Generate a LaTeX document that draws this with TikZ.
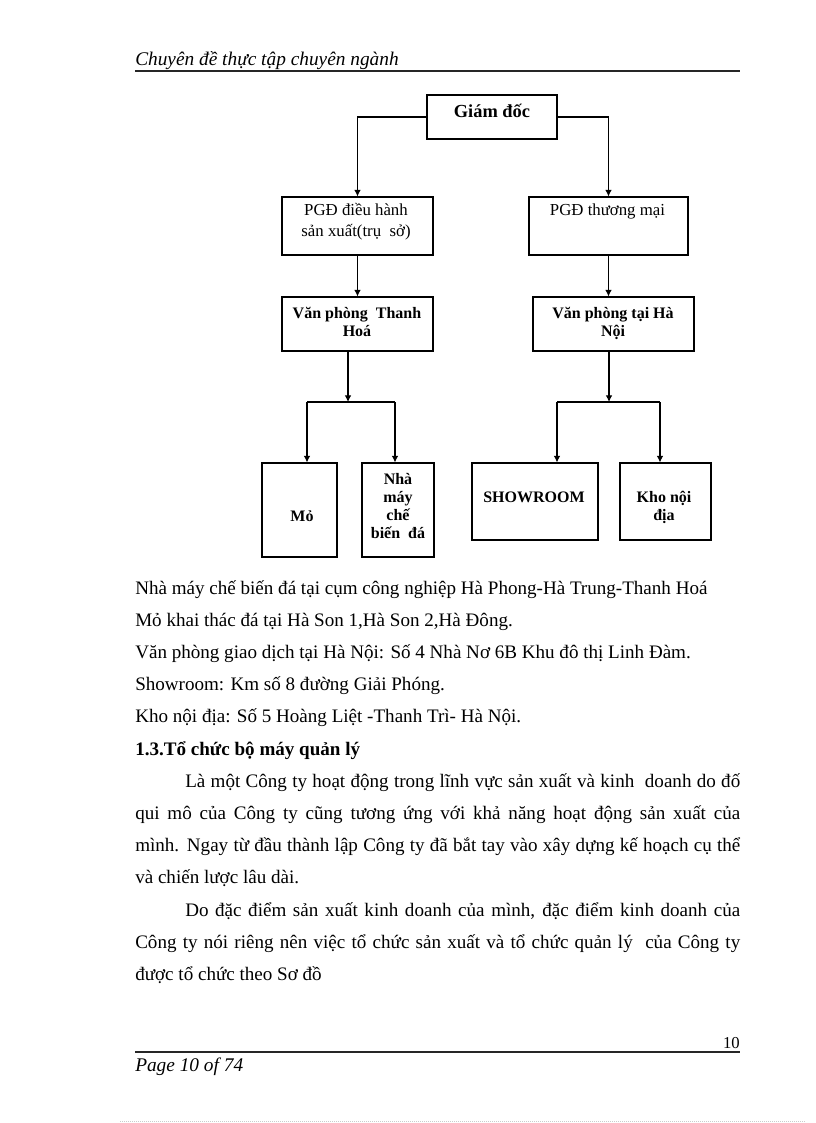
\documentclass[tikz,border=0pt]{standalone}
\usepackage{fontspec}
\setmainfont{Liberation Serif}
\usetikzlibrary{arrows.meta,fit}
\newcommand\mystack[1]{\vtop{\halign{\hfil##\hfil\cr#1\crcr}}}
\newcommand\jline[1]{\makebox[453.75pt][s]{#1}}
\begin{document}
\begin{tikzpicture}[x=0.75pt,y=-0.75pt,
  box/.style={draw, line width=0.8pt, inner sep=0pt},
  link/.style={line width=0.8pt},
  conn/.style={line width=0.8pt, -{Latex[length=5pt,width=5pt]}},
  lbl/.style={inner sep=0pt, anchor=base, font=\fontsize{12}{13.5}\selectfont\bfseries},
  lblr/.style={inner sep=0pt, anchor=base, font=\fontsize{12.6}{15.75}\selectfont},
  body/.style={inner sep=0pt, anchor=base west, font=\fontsize{14.3}{16}\selectfont},
  hdr/.style={inner sep=0pt, anchor=base west, font=\fontsize{14.5}{16}\selectfont\itshape},
  rule/.style={line width=0.9pt, black!85}
]
\useasboundingbox (0,0) rectangle (816,1123);
\fill[white] (0,0) rectangle (816,1123);

% header
\node[hdr] (head) at (135,66) {Chuyên đề thực tập chuyên ngành};
\coordinate (hl1) at (135,71);
\coordinate (hl2) at (740,71);
\draw[rule] (hl1) -- (hl2);

% boxes
\node[box, fit={(427,95) (557,139)}] (gd) {};
\node[box, fit={(282,197) (433,255)}] (pgd1) {};
\node[box, fit={(529,197) (688,255)}] (pgd2) {};
\node[box, fit={(282,297) (433,351)}] (vpth) {};
\node[box, fit={(533,297) (694,351)}] (vphn) {};
\node[box, fit={(262,463) (337,557)}] (mo) {};
\node[box, fit={(362,463) (434,557)}] (nm) {};
\node[box, fit={(472,463) (598,540)}] (sr) {};
\node[box, fit={(620,463) (711,540)}] (kho) {};

% labels
\node[lbl, font=\fontsize{13.8}{15}\selectfont\bfseries] (tgd) at (492,118) {Giám đốc};
\node[lblr] (tpgd1) at (356,216) {\mystack{PGĐ điều hành\cr sản xuất(trụ\ \ sở)}};
\node[lblr] (tpgd2) at (607.5,216) {PGĐ thương mại};
\node[lbl] (tvpth) at (357,318) {\mystack{Văn phòng\ \ Thanh\cr Hoá}};
\node[lbl] (tvphn) at (613,318) {\mystack{Văn phòng tại Hà\cr Nội}};
\node[lbl] (tmo) at (302,521) {Mỏ};
\node[lbl] (tnm) at (398,484) {\mystack{Nhà\cr máy\cr chế\cr biến\ \ đá}};
\node[lbl] (tsr) at (534,502) {SHOWROOM};
\node[lbl, font=\fontsize{12}{14}\selectfont\bfseries] (tkho) at (664,502) {\mystack{Kho nội\cr địa}};

% connectors top
\draw[conn] (gd.west) -| (pgd1.north);
\draw[conn] (gd.east) -| (pgd2.north);
\draw[conn] (pgd1.south) -- (pgd1.south |- vpth.north);
\draw[conn] (pgd2.south) -- (pgd2.south |- vphn.north);

% left branch
\coordinate (j1) at (348,402);
\coordinate (j1l) at (307,402);
\coordinate (j1r) at (395,402);
\draw[conn] (vpth.south -| j1) -- (j1);
\draw[link] (j1l) -- (j1r);
\draw[conn] (j1l) -- (j1l |- mo.north);
\draw[conn] (j1r) -- (j1r |- nm.north);

% right branch
\coordinate (j2) at (609,402);
\coordinate (j2l) at (557,402);
\coordinate (j2r) at (660,402);
\draw[conn] (vphn.south -| j2) -- (j2);
\draw[link] (j2l) -- (j2r);
\draw[conn] (j2l) -- (j2l |- sr.north);
\draw[conn] (j2r) -- (j2r |- kho.north);

% body text
\node[body] (l1) at (135,594) {Nhà máy chế biến đá tại cụm công nghiệp Hà Phong-Hà Trung-Thanh Hoá};
\node[body] (l2) at (135,626.2) {Mỏ khai thác đá tại Hà Son 1,Hà Son 2,Hà Đông.};
\node[body] (l3) at (135,658.4) {Văn phòng giao dịch tại Hà Nội: Số 4 Nhà Nơ 6B Khu đô thị Linh Đàm.};
\node[body] (l4) at (135,690.6) {Showroom: Km số 8 đường Giải Phóng.};
\node[body] (l5) at (135,722.8) {Kho nội địa: Số 5 Hoàng Liệt -Thanh Trì- Hà Nội.};
\node[body, font=\fontsize{14.3}{16}\selectfont\bfseries] (l6) at (135,755) {1.3.Tổ chức bộ máy quản lý};
\node[body] (l7) at (135,787.2) {\jline{\hspace*{37.5pt}Là một Công ty hoạt động trong lĩnh vực sản xuất và kinh\ \ doanh do đố}};
\node[body] (l8) at (135,819.4) {\jline{qui mô của Công ty cũng tương ứng với khả năng hoạt động sản xuất của}};
\node[body] (l9) at (135,851.6) {\jline{mình. Ngay từ đầu thành lập Công ty đã bắt tay vào xây dựng kế hoạch cụ thể}};
\node[body] (l10) at (135,883.8) {và chiến lược lâu dài.};
\node[body] (l11) at (135,916) {\jline{\hspace*{37.5pt}Do đặc điểm sản xuất kinh doanh của mình, đặc điểm kinh doanh của}};
\node[body] (l12) at (135,948.2) {\jline{Công ty nói riêng nên việc tổ chức sản xuất và tổ chức quản lý\ \ của Công ty}};
\node[body] (l13) at (135,980.4) {được tổ chức theo Sơ đồ};

% footer
\node[inner sep=0pt, anchor=base east, font=\fontsize{12.5}{14}\selectfont] (pnum) at (740,1048) {10};
\coordinate (fl1) at (135,1052);
\coordinate (fl2) at (740,1052);
\draw[rule] (fl1) -- (fl2);
\node[hdr] (foot) at (135,1071) {Page 10 of 74};
\coordinate (dl1) at (120,1121);
\coordinate (dl2) at (805,1121);
\draw[black!20, densely dotted, line width=0.5pt] (dl1) -- (dl2);
\end{tikzpicture}
\end{document}
